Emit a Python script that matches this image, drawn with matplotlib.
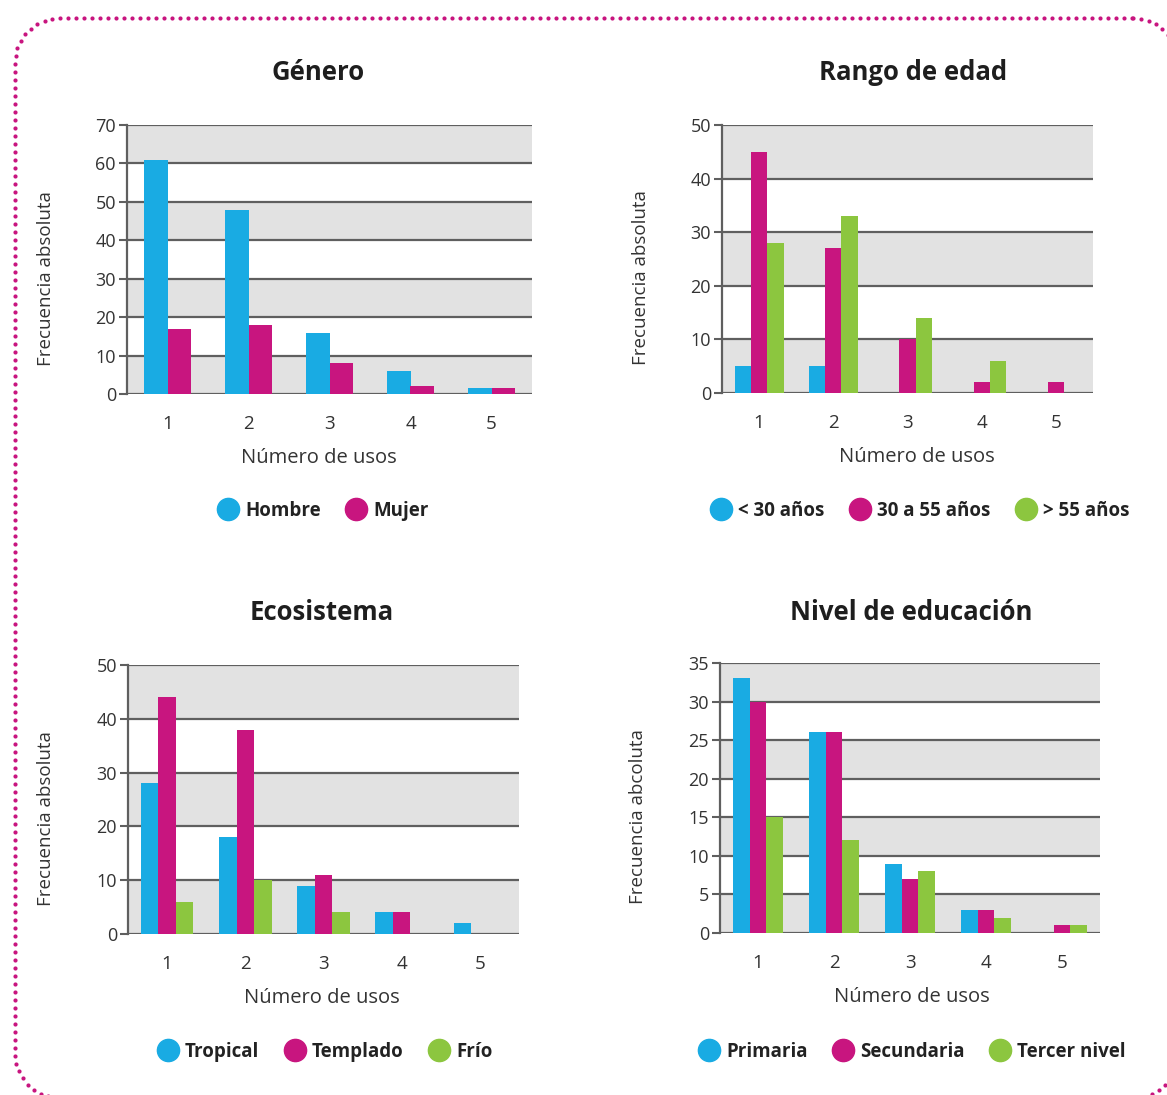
import numpy as np
import matplotlib
matplotlib.use('Agg')
import matplotlib.pyplot as plt
from matplotlib.lines import Line2D

plt.rcParams['font.family'] = ['Open Sans', 'DejaVu Sans']

# data
usos = ['1', '2', '3', '4', '5']

genero_series = ['Hombre', 'Mujer']
hombre = [61, 48, 16, 6, 1.5]
mujer = [17, 18, 8, 2, 1.5]

edad_series = ['< 30 años', '30 a 55 años', '> 55 años']
menos30 = [5, 5, 0, 0, 0]
entre30_55 = [45, 27, 10, 2, 2]
mas55 = [28, 33, 14, 6, 0]

eco_series = ['Tropical', 'Templado', 'Frío']
tropical = [28, 18, 9, 4, 2]
templado = [44, 38, 11, 4, 0]
frio = [6, 10, 4, 0, 0]

edu_series = ['Primaria', 'Secundaria', 'Tercer nivel']
primaria = [33, 26, 9, 3, 0]
secundaria = [30, 26, 7, 3, 1]
tercer = [15, 12, 8, 2, 1]

BLUE = '#19abe3'
MAGENTA = '#c8157f'
GREEN = '#8cc63f'
BAND = '#e2e2e2'
GRID = '#5f5f5f'
colors = [BLUE, MAGENTA, GREEN]

fig = plt.figure(figsize=(11.67, 10.95), dpi=100)

# dotted rounded frame, pixel coords (y down)
bg = fig.add_axes([0, 0, 1, 1])
bg.set_xlim(0, 1167)
bg.set_ylim(1095, 0)
bg.axis('off')
L, T, R, B, rad = 15, 18, 1178, 1098, 45
pts = []
for cx, cy, a0 in [(R - rad, T + rad, -90), (R - rad, B - rad, 0), (L + rad, B - rad, 90), (L + rad, T + rad, 180)]:
    a = np.radians(np.linspace(a0, a0 + 90, 30))
    pts.append(np.column_stack([cx + rad * np.cos(a), cy + rad * np.sin(a)]))
pts.append(pts[0][:1])
path = np.vstack(pts)
seg = np.hypot(*np.diff(path, axis=0).T)
s = np.concatenate([[0], np.cumsum(seg)])
d = np.arange(0, s[-1], 8.0)
fx = np.interp(d, s, path[:, 0])
fy = np.interp(d, s, path[:, 1])
bg.scatter(fx, fy, s=9, color=MAGENTA, lw=0)


def panel(rect, title, title_xy, series, names, ymax, ystep, bw, ylab, ylab_x, xlab_x, leg_xy):
    ax = fig.add_axes(rect)
    ticks = np.arange(0, ymax + ystep, ystep)
    # alternating bands, top band gray
    for i, top in enumerate(ticks[::-1][:-1]):
        if i % 2 == 0:
            ax.axhspan(top - ystep, top, color=BAND, zorder=0, lw=0)
    for t in ticks:
        ax.axhline(t, color=GRID, lw=1.6, zorder=1)
    x = np.arange(1, 6)
    n = len(series)
    for k, vals in enumerate(series):
        off = (k - (n - 1) / 2) * bw
        ax.bar(x + off, vals, width=bw, color=colors[k], zorder=2, lw=0)
    ax.set_xlim(0.5, 5.5)
    ax.set_ylim(0, ymax)
    ax.set_yticks(ticks)
    ax.set_xticks(x)
    ax.set_xticklabels(usos)
    for sp in ['top', 'right', 'bottom']:
        ax.spines[sp].set_visible(False)
    ax.spines['left'].set_color(GRID)
    ax.spines['left'].set_linewidth(1.6)
    ax.tick_params(axis='y', length=6, width=1.5, color=GRID, pad=2, labelsize=13, labelcolor='#333333')
    ax.tick_params(axis='x', length=0, pad=15, labelsize=13.5, labelcolor='#333333')
    ax.set_ylabel(ylab, fontsize=13.5, color='#333333')
    ax.yaxis.set_label_coords(ylab_x, 0.43)
    ax.set_xlabel('Número de usos', fontsize=14.5, color='#333333')
    ax.xaxis.set_label_coords(xlab_x, -0.2)
    fig.text(title_xy[0] / 1167, 1 - title_xy[1] / 1095, title, fontsize=18.5, fontweight='bold',
             color='#1e1e1e', ha='center', va='center')
    handles = [Line2D([], [], marker='o', ls='', markersize=16, color=colors[k]) for k in range(n)]
    fig.legend(handles, names, loc='center', ncol=n,
               bbox_to_anchor=(leg_xy[0] / 1167, 1 - leg_xy[1] / 1095),
               frameon=False, handletextpad=-0.1, columnspacing=0.9,
               prop={'size': 13.5, 'weight': 'bold'}, labelcolor='#222222')
    return ax


panel([127 / 1167, 1 - 394 / 1095, 405 / 1167, 269 / 1095], 'Género', (318, 72),
      [hombre, mujer], genero_series, 70, 10, 0.29,
      'Frecuencia absoluta', -0.178, 0.474, (319, 511))

panel([722 / 1167, 1 - 393 / 1095, 371 / 1167, 268 / 1095], 'Rango de edad', (913, 72),
      [menos30, entre30_55, mas55], edad_series, 50, 10, 0.22,
      'Frecuencia absoluta', -0.194, 0.526, (916, 511))

panel([128 / 1167, 1 - 934 / 1095, 391 / 1167, 269 / 1095], 'Ecosistema', (322, 612),
      [tropical, templado, frio], eco_series, 50, 10, 0.225,
      'Frecuencia absoluta', -0.186, 0.496, (321, 1052))

panel([720 / 1167, 1 - 933 / 1095, 380 / 1167, 270 / 1095], 'Nivel de educación', (911, 612),
      [primaria, secundaria, tercer], edu_series, 35, 5, 0.22,
      'Frecuencia abcoluta', -0.192, 0.505, (908, 1052))

fig.savefig('out.png', dpi=100)
